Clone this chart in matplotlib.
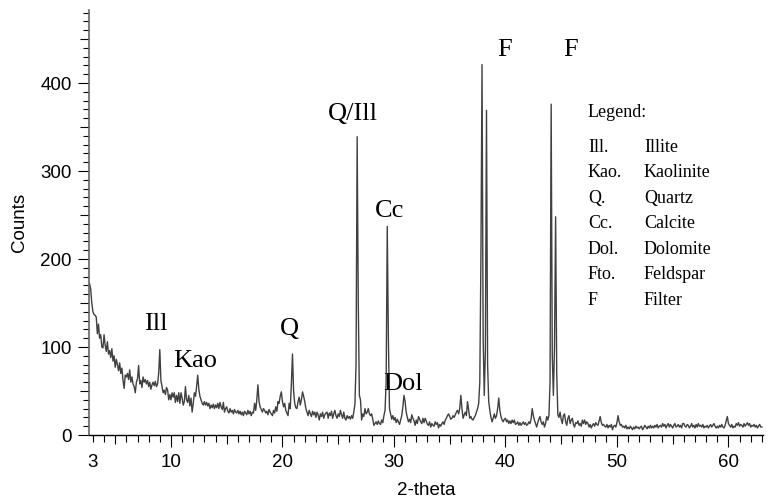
import numpy as np
import matplotlib
matplotlib.use("Agg")
import matplotlib.pyplot as plt
from matplotlib.ticker import FixedLocator

# ---------------- data ----------------
start_angle = 2.7   # first 2-theta value of the scan
step_angle = 0.1    # scan step

counts = [
    172, 166, 150,                                   # 2.7-2.9
    140, 137, 136, 134, 115, 126, 110, 114, 100, 99,  # 3
    114, 102, 95, 106, 92, 96, 88, 98, 84, 90,        # 4
    77, 86, 80, 73, 82, 70, 76, 62, 53, 68,           # 5
    66, 70, 63, 74, 60, 66, 58, 55, 48, 60,           # 6
    64, 79, 58, 62, 54, 66, 60, 63, 58, 62,           # 7
    55, 60, 52, 57, 60, 56, 61, 55, 58, 70,           # 8
    97, 62, 55, 48, 51, 46, 54, 51, 40, 46,           # 9
    40, 48, 43, 48, 37, 45, 38, 48, 36, 48,           # 10
    42, 34, 38, 55, 40, 37, 45, 33, 42, 26,           # 11
    36, 48, 44, 55, 68, 52, 44, 40, 36, 34,           # 12
    38, 34, 37, 33, 36, 30, 34, 31, 35, 30,           # 13
    34, 31, 36, 30, 37, 32, 29, 37, 26, 30,           # 14
    32, 27, 25, 30, 26, 28, 24, 29, 26, 25,           # 15
    28, 24, 27, 23, 26, 22, 27, 25, 23, 28,           # 16
    24, 27, 22, 26, 25, 36, 28, 40, 57, 38,           # 17
    32, 29, 26, 30, 28, 25, 27, 23, 29, 26,           # 18
    24, 22, 28, 25, 32, 27, 38, 36, 44, 49,           # 19
    38, 32, 36, 28, 25, 22, 36, 30, 58, 92,           # 20
    50, 36, 31, 30, 38, 43, 34, 40, 49, 44,           # 21
    38, 30, 26, 22, 28, 24, 21, 27, 23, 26,           # 22
    20, 26, 23, 17, 24, 21, 26, 19, 23, 25,           # 23
    26, 19, 25, 22, 27, 19, 24, 28, 22, 19,           # 24
    24, 21, 28, 23, 19, 26, 19, 17, 22, 19,           # 25
    21, 18, 22, 19, 26, 35, 80, 339, 150, 45,         # 26
    40, 17, 24, 21, 30, 24, 26, 30, 24, 22,           # 27
    24, 18, 11, 13, 15, 12, 16, 13, 12, 17,           # 28
    14, 22, 28, 60, 237, 110, 30, 24, 18, 22,         # 29
    17, 20, 14, 18, 15, 12, 17, 22, 32, 45,           # 30
    38, 26, 20, 15, 18, 14, 23, 19, 16, 11,           # 31
    17, 13, 21, 18, 15, 13, 19, 14, 19, 16,           # 32
    12, 11, 15, 9, 13, 11, 10, 15, 12, 14,            # 33
    8, 12, 10, 13, 15, 12, 17, 19, 22, 24,            # 34
    21, 18, 19, 22, 20, 23, 26, 28, 24, 30,           # 35
    45, 30, 19, 23, 26, 22, 38, 28, 19, 21,           # 36
    18, 17, 20, 22, 26, 30, 36, 60, 200, 421,         # 37
    110, 45, 95, 369, 80, 38, 28, 20, 15, 19,         # 38
    24, 19, 22, 30, 42, 28, 21, 17, 15, 18,           # 39
    19, 15, 17, 13, 16, 13, 17, 14, 17, 12,           # 40
    13, 15, 11, 14, 11, 13, 15, 12, 14, 11,           # 41
    12, 15, 13, 18, 30, 22, 17, 13, 9, 14,            # 42
    18, 21, 15, 12, 15, 9, 13, 21, 17, 22,            # 43
    60, 376, 90, 45, 100, 248, 70, 23, 20, 26,        # 44
    18, 13, 22, 24, 15, 11, 19, 22, 13, 17,           # 45
    19, 12, 9, 14, 13, 16, 11, 13, 10, 17,            # 46
    13, 17, 12, 15, 13, 9, 12, 8, 11, 13,             # 47
    10, 14, 12, 11, 16, 21, 14, 11, 12, 10,           # 48
    9, 12, 8, 11, 9, 12, 6, 10, 11, 9,                # 49
    14, 22, 15, 11, 12, 9, 10, 8, 11, 7,              # 50
    9, 7, 10, 8, 6, 9, 7, 10, 8, 9,                   # 51
    7, 9, 10, 6, 8, 11, 9, 7, 10, 8,                  # 52
    11, 8, 10, 8, 11, 9, 12, 8, 10, 11,               # 53
    9, 13, 10, 12, 8, 11, 13, 9, 12, 10,              # 54
    8, 11, 13, 9, 10, 12, 9, 11, 8, 13,               # 55
    13, 10, 9, 12, 11, 8, 10, 13, 9, 11,              # 56
    8, 12, 9, 13, 10, 11, 9, 12, 8, 10,               # 57
    9, 11, 8, 10, 12, 9, 11, 13, 10, 8,               # 58
    10, 8, 11, 9, 12, 9, 8, 11, 16, 21,               # 59
    13, 11, 9, 12, 8, 10, 9, 13, 11, 14,              # 60
    10, 12, 11, 9, 13, 10, 12, 14, 11, 13,            # 61
    9, 11, 10, 12, 9, 11, 8, 10, 12, 9,               # 62
    9,                                                # 63.0
]

x_ticks = [3, 10, 20, 30, 40, 50, 60]
x_tick_labels = ["3", "10", "20", "30", "40", "50", "60"]
y_ticks = [0, 100, 200, 300, 400]
y_tick_labels = ["0", "100", "200", "300", "400"]

peak_labels = ["Ill", "Kao", "Q", "Q/Ill", "Cc", "Dol", "F", "F"]
legend_abbr = ["Ill.", "Kao.", "Q.", "Cc.", "Dol.", "Fto.", "F"]
legend_names = ["Illite", "Kaolinite", "Quartz", "Calcite", "Dolomite", "Feldspar", "Filter"]

# positions of the peak labels (data coords, baseline of text)
peak_label_x = [8.65, 12.2, 20.6, 26.3, 29.6, 30.85, 39.9, 45.85]
peak_label_y = [119, 77, 114, 358, 248, 51, 431, 431]

# ---------------- figure ----------------
angles = start_angle + step_angle * np.arange(len(counts))

fig = plt.figure(figsize=(7.7, 5.04), dpi=100)
ax = fig.add_axes([89 / 770, 1 - 435 / 504, 674 / 770, 425 / 504])

ax.plot(angles, counts, color="#404040", lw=1.0)

ax.set_xlim(2.65, 63.1)
ax.set_ylim(0, 483)

for s in ["top", "right"]:
    ax.spines[s].set_visible(False)
ax.spines["left"].set_color("#666666")
ax.spines["left"].set_linewidth(1.2)
ax.spines["bottom"].set_linewidth(1.0)

sans = ["Liberation Sans", "DejaVu Sans"]
serif = ["Liberation Serif", "DejaVu Serif"]

# x ticks
ax.set_xticks(x_ticks)
ax.set_xticklabels(x_tick_labels, fontsize=13.5, family=sans)
x_minor = [v for v in range(4, 64) if v % 10 != 0]
ax.xaxis.set_minor_locator(FixedLocator(x_minor))
ax.tick_params(axis="x", which="major", length=8.6, width=0.8, pad=5, direction="out")
ax.tick_params(axis="x", which="minor", length=5, width=0.8, direction="out")
mt = ax.xaxis.get_major_ticks(len(x_ticks))
mt[0].tick1line.set_markersize(5)
mn = ax.xaxis.get_minor_ticks(len(x_minor))
for t, v in zip(mn, x_minor):
    if v % 5 == 0:
        t.tick1line.set_markersize(6.5)

# y ticks
ax.set_yticks(y_ticks)
ax.set_yticklabels(y_tick_labels, fontsize=13.5, family=sans)
y_minor = [v for v in range(10, 490, 10) if v % 100 != 0]
ax.yaxis.set_minor_locator(FixedLocator(y_minor))
ax.tick_params(axis="y", which="major", length=8, width=0.8, pad=4.5, direction="out")
ax.tick_params(axis="y", which="minor", length=4, width=0.8, direction="out")
ymn = ax.yaxis.get_minor_ticks(len(y_minor))
for t, v in zip(ymn, y_minor):
    if v % 50 == 0:
        t.tick1line.set_markersize(6.5)

ax.set_xlabel("2-theta", fontsize=13.5, family=sans, labelpad=8)
ax.set_ylabel("Counts", fontsize=13.5, family=sans, labelpad=9)

# peak labels
for txt, px, py in zip(peak_labels, peak_label_x, peak_label_y):
    ax.text(px, py, txt, fontsize=19, family=serif, ha="center", va="baseline")

# legend block
def fy(ypx):
    return 1 - ypx / 504

fig.text(588 / 770, fy(117), "Legend:", fontsize=13, family=serif, va="baseline")
for i, (a, n) in enumerate(zip(legend_abbr, legend_names)):
    yb = 151.7 + i * 25.55
    fig.text(588 / 770, fy(yb), a, fontsize=13, family=serif, va="baseline")
    fig.text(644 / 770, fy(yb), n, fontsize=13, family=serif, va="baseline")

fig.savefig("out.png", dpi=100)
